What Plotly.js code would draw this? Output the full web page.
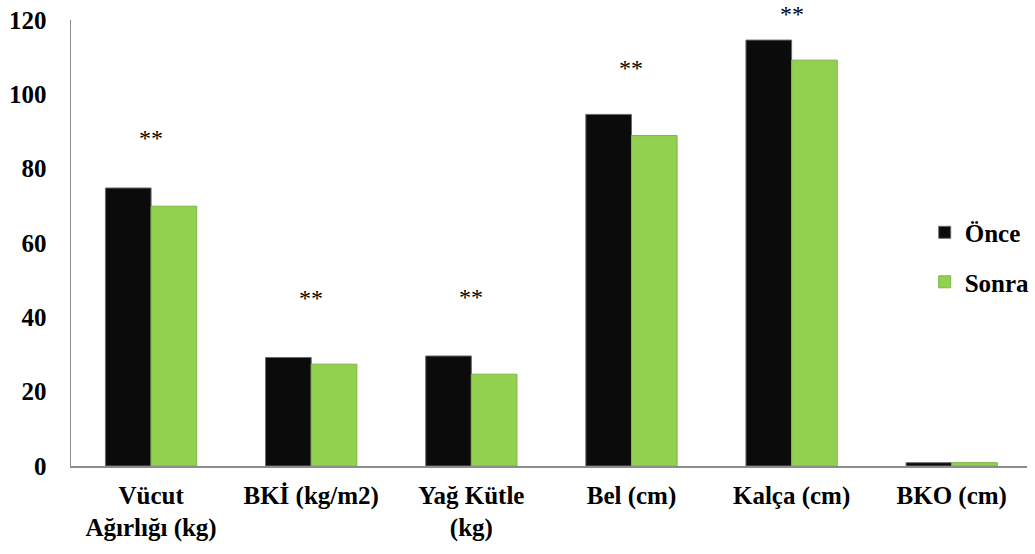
<!DOCTYPE html>
<html>
<head>
<meta charset="utf-8">
<script src="https://cdn.plot.ly/plotly-3.0.1.min.js"></script>
<style>
  html, body { margin: 0; padding: 0; background: #fff; overflow: hidden; }
  #chart { width: 1035px; height: 554px; }
</style>
</head>
<body>
<div id="chart"></div>
<script>
// Anthropometric measures before and after the programme
const categories = ["Vücut<br>Ağırlığı (kg)", "BKİ (kg/m2)", "Yağ Kütle<br>(kg)", "Bel (cm)", "Kalça (cm)", "BKO (cm)"];
const onceValues = [74.8, 29.2, 29.6, 94.6, 114.6, 0.9];
const sonraValues = [69.9, 27.4, 24.7, 88.9, 109.2, 0.9];
const seriesNames = ["Önce", "Sonra"];
// significance markers and the value level they are written at
const sigLabels = ["**", "**", "**", "**", "**", ""];
const sigLevels = [88.2, 45.2, 45.5, 107.0, 121.5, 0];

const serif = "Liberation Serif, Times New Roman, serif";
const yMax = 120;

const traces = [
  {
    type: "bar", x: categories, y: onceValues, name: seriesNames[0],
    legendgroup: "a",
    marker: { color: "#0b0b0b", line: { color: "#6a6a6a", width: 1 } },
    hoverinfo: "y"
  },
  {
    type: "bar", x: categories, y: sonraValues, name: seriesNames[1],
    legendgroup: "b",
    marker: { color: "#92d050", line: { color: "#7fb545", width: 1 } },
    hoverinfo: "y"
  }
];

// markers above the axis top are placed in paper units so they are not hidden
const annotations = sigLabels.map((t, i) => ({
  x: categories[i], y: sigLevels[i] / yMax, text: t, showarrow: false,
  xref: "x", yref: "paper", xanchor: "center", yanchor: "middle",
  font: { family: serif, size: 24, color: "#000" }
})).filter(a => a.text);

const layout = {
  width: 1035, height: 554,
  margin: { l: 71, r: 0, t: 20, b: 88 },
  paper_bgcolor: "#fff", plot_bgcolor: "#fff",
  barmode: "group", bargap: 0.43, bargroupgap: 0,
  font: { family: serif, size: 25, color: "#000" },
  xaxis: {
    type: "category",
    range: [-0.5, 5.47],
    showline: true, linecolor: "#8c8c8c", linewidth: 1.5,
    ticks: "", showgrid: false, zeroline: false,
    tickfont: { family: serif, size: 25, color: "#000", weight: "bold" },
    ticklabelstandoff: 6,
    fixedrange: true
  },
  yaxis: {
    range: [0, yMax], dtick: 20,
    showline: true, linecolor: "#8c8c8c", linewidth: 1.5,
    ticks: "", showgrid: false, zeroline: false,
    tickfont: { family: serif, size: 25, color: "#000", weight: "bold" },
    ticklabelstandoff: 18,
    fixedrange: true
  },
  legend: {
    x: 0.893, y: 0.575, xanchor: "left", yanchor: "top",
    traceorder: "grouped", tracegroupgap: 14,
    font: { family: serif, size: 25, color: "#000", weight: "bold" },
    itemwidth: 30, bgcolor: "rgba(0,0,0,0)"
  },
  annotations: annotations,
  showlegend: true
};

Plotly.newPlot("chart", traces, layout, { displayModeBar: false, staticPlot: true });
</script>
</body>
</html>
